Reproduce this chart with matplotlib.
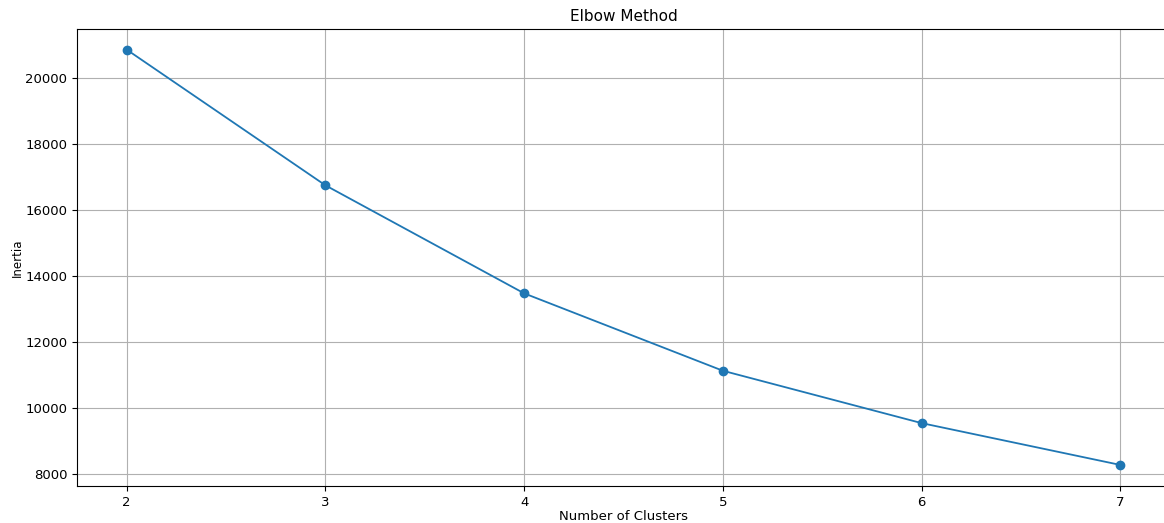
import matplotlib
matplotlib.use("Agg")
import matplotlib.pyplot as plt

n_clusters = [2, 3, 4, 5, 6, 7]
inertia = [20870, 16750, 13470, 11120, 9530, 8260]

fig = plt.figure(figsize=(11.64, 5.23), dpi=100)
# axes run slightly past the right edge, as in the reference crop
ax = fig.add_axes([0.0662, 0.0707, 0.939, 0.874])
ax.plot(n_clusters, inertia, marker="o", color="#1f77b4", markersize=6, linewidth=1.3)
ax.set_xlim(1.75, 7.25)
ax.set_ylim(7620, 21500)
ax.set_xticks(n_clusters)
ax.set_yticks([8000, 10000, 12000, 14000, 16000, 18000, 20000])
ax.tick_params(labelsize=9.5)
ax.set_title("Elbow Method", fontsize=11)
ax.set_xlabel("Number of Clusters", fontsize=9.5, labelpad=1)
ax.set_ylabel("Inertia", fontsize=8.5, labelpad=1)
ax.grid(True, color="#b0b0b0", linewidth=0.8)

fig.savefig("out.png", dpi=100)
